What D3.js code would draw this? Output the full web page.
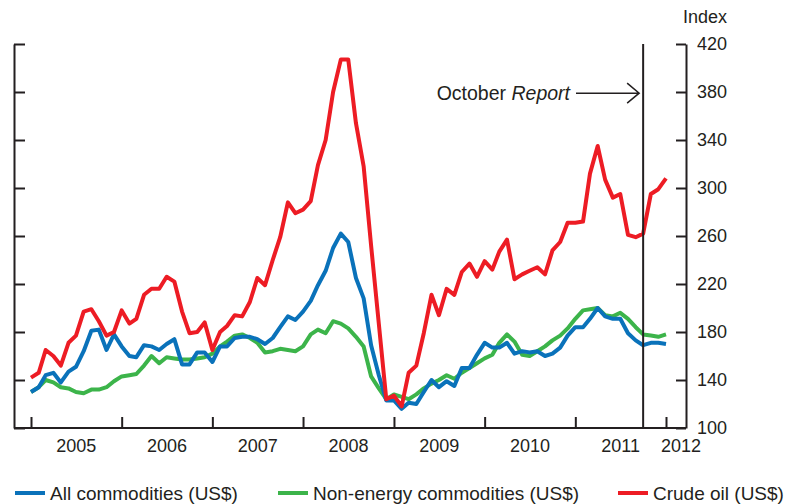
<!DOCTYPE html>
<html>
<head>
<meta charset="utf-8" />
<title>Commodity prices</title>
<script src="https://cdnjs.cloudflare.com/ajax/libs/d3/7.8.5/d3.min.js"></script>
<style>
	body { margin: 0; background: #fff; }
	svg { display: block; font-family: 'Liberation Sans', Arial, sans-serif; }
	.axis path, .axis line { stroke: #231f20; stroke-width: 2; }
	.axis text { fill: #231f20; font-size: 18px; }
	.series { fill: none; stroke-width: 4; stroke-linejoin: round; }
	.legend text { fill: #231f20; font-size: 19px; }
</style>
</head>
<body>
<script>
// monthly, Jan 2005 .. Jan 2012
const startYear = 2005, startMonth = 0;

const allCommodities = [130, 134, 144, 146, 138, 147, 151, 164, 181, 182, 165, 178,
	168, 160, 159, 169, 168, 165, 170, 174, 153, 153, 163, 163,
	155, 168, 168, 175, 176, 176, 174, 170, 175, 184, 193, 190,
	197, 206, 219, 231, 250, 262, 255, 225, 208, 169, 144, 123,
	123, 116, 121, 120, 130, 140, 134, 139, 135, 150, 150, 161,
	171, 167, 167, 171, 162, 164, 163, 164, 160, 162, 167, 177,
	184, 184, 191, 200, 193, 191, 191, 179, 173, 169, 171, 171,
	170];

const nonEnergy = [130, 134, 140, 138, 134, 133, 130, 129, 132, 132, 134, 139,
	143, 144, 145, 152, 160, 154, 159, 158, 157, 157, 158, 159,
	162, 168, 172, 177, 178, 175, 171, 163, 164, 166, 165, 164,
	168, 178, 182, 179, 189, 187, 183, 176, 168, 143, 133, 124,
	128, 126, 124, 128, 133, 137, 140, 144, 141, 146, 150, 154,
	158, 161, 171, 178, 172, 161, 160, 164, 168, 173, 177, 183,
	191, 198, 199, 200, 194, 193, 196, 191, 184, 178, 177, 176,
	178];

const crudeOil = [142, 146, 165, 160, 152, 171, 177, 197, 199, 189, 177, 180,
	198, 187, 191, 211, 216, 216, 226, 222, 197, 179, 180, 188,
	165, 180, 185, 194, 193, 205, 225, 219, 240, 259, 288, 279,
	282, 289, 319, 340, 380, 407, 407, 354, 318, 252, 187, 124,
	127, 118, 146, 152, 179, 211, 194, 216, 211, 230, 237, 226,
	239, 232, 247, 257, 224, 228, 231, 234, 228, 248, 255, 271,
	271, 272, 312, 335, 307, 292, 295, 261, 259, 262, 295, 299,
	308];

const yTicks = [100, 140, 180, 220, 260, 300, 340, 380, 420];
const years = [2005, 2006, 2007, 2008, 2009, 2010, 2011, 2012];
const reportDate = new Date(2011, 9, 1);

const series = [
	{ name: "All commodities (US$)", values: allCommodities, color: "#0a72ba" },
	{ name: "Non-energy commodities (US$)", values: nonEnergy, color: "#3cb44a" },
	{ name: "Crude oil (US$)", values: crudeOil, color: "#ed1c24" }
];

const w = 796, h = 504;
const frameLeft = 14, frameRight = 686, frameTop = 44, frameBottom = 428;

const svg = d3.select("body").append("svg")
	.attr("width", w)
	.attr("height", h);

const x = d3.scaleTime()
	.domain([new Date(2005, 0, 1), new Date(2012, 0, 1)])
	.range([31, 666]);

const y = d3.scaleLinear()
	.domain([100, 420])
	.range([frameBottom, frameTop]);

const dateOf = i => new Date(startYear, startMonth + i, 1);

// axes
svg.append("g")
	.attr("class", "axis")
	.attr("transform", "translate(" + frameLeft + ",0)")
	.call(d3.axisLeft(y).tickValues(yTicks).tickSize(-11).tickSizeOuter(0).tickFormat(""));

svg.append("g")
	.attr("class", "axis")
	.attr("transform", "translate(" + frameRight + ",0)")
	.call(d3.axisRight(y).tickValues(yTicks).tickSize(-10).tickSizeOuter(0).tickPadding(11));

const xAxis = svg.append("g")
	.attr("class", "axis")
	.attr("transform", "translate(0," + frameBottom + ")")
	.call(d3.axisBottom(x)
		.tickValues(years.map(yr => new Date(yr, 0, 1)))
		.tickSize(-11).tickSizeOuter(0).tickFormat(""));
// stretch the domain line across the whole frame
xAxis.select(".domain").attr("d", "M" + frameLeft + ",0H" + frameRight);

// year labels sit between the ticks, last one squeezed in by the axis
svg.append("g")
	.attr("class", "axis")
	.selectAll("text")
	.data(years)
	.enter()
	.append("text")
	.attr("x", yr => yr < 2012
		? (x(new Date(yr, 0, 1)) + x(new Date(yr + 1, 0, 1))) / 2
		: x(new Date(yr, 0, 1)) + 15)
	.attr("y", 452)
	.attr("text-anchor", "middle")
	.text(d => d);

svg.append("text")
	.attr("x", 727)
	.attr("y", 23)
	.attr("text-anchor", "end")
	.style("font-size", "18px")
	.style("fill", "#231f20")
	.text("Index");

// lines
const line = d3.line()
	.x((d, i) => x(dateOf(i)))
	.y(d => y(d));

[series[1], series[0], series[2]].forEach(s => {
	svg.append("path")
		.attr("class", "series")
		.attr("stroke", s.color)
		.attr("d", line(s.values));
});

// October Report marker
const rx = x(reportDate);
svg.append("line")
	.attr("x1", rx).attr("x2", rx)
	.attr("y1", frameTop).attr("y2", frameBottom)
	.attr("stroke", "#231f20")
	.attr("stroke-width", 2);

const ay = y(379);
svg.append("path")
	.attr("d", "M576," + ay + "H" + (rx - 4) + "M" + (rx - 16) + "," + (ay - 10) + "L" + (rx - 4) + "," + ay + "L" + (rx - 16) + "," + (ay + 10))
	.attr("fill", "none")
	.attr("stroke", "#231f20")
	.attr("stroke-width", 1.5);

const note = svg.append("text")
	.attr("x", 570)
	.attr("y", ay + 7)
	.attr("text-anchor", "end")
	.style("font-size", "19.5px")
	.style("fill", "#231f20");
note.append("tspan").text("October ");
note.append("tspan").style("font-style", "italic").text("Report");

// legend
const legendX = [15, 278, 618];
const legend = svg.append("g").attr("class", "legend");
series.forEach((s, i) => {
	const g = legend.append("g").attr("transform", "translate(" + legendX[i] + ",493)");
	g.append("line")
		.attr("x1", 0).attr("x2", 30)
		.attr("stroke", s.color)
		.attr("stroke-width", 4);
	g.append("text")
		.attr("x", 35)
		.attr("y", 7)
		.text(s.name);
});
</script>
</body>
</html>
